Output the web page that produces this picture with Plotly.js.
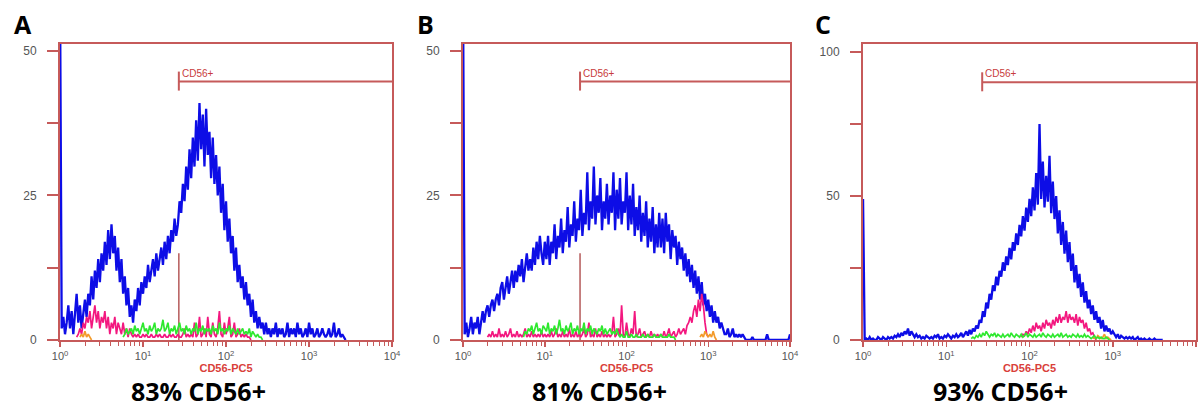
<!DOCTYPE html>
<html><head><meta charset="utf-8">
<script src="https://cdn.plot.ly/plotly-3.0.1.min.js"></script>
<style>html,body{margin:0;padding:0;background:#fff}#chart{width:1203px;height:409px}</style>
</head><body><div id="chart"></div>
<script>
// ---------- data ----------
const CHANNELS_PER_DECADE = 50;      // histogram bins per log decade
const GATE_START = 27;               // CD56+ gate lower bound (fluorescence)
const GATE_END = 10000;
const panelLetters = ['A', 'B', 'C'];
const captions = ['83% CD56+', '81% CD56+', '93% CD56+'];
const gateLabel = 'CD56+';
const xAxisTitle = 'CD56-PC5';
const xTickValues = [1, 10, 100, 1000, 10000];
const xTickLabels = ['10<sup>0</sup>', '10<sup>1</sup>', '10<sup>2</sup>', '10<sup>3</sup>', '10<sup>4</sup>'];
const yTicksAB = [0, 25, 50];
const yMinorTicksAB = [12.5, 37.5];
const yTicksC = [0, 50, 100];
const yMinorTicksC = [25, 75];
const yMax = [51.2, 51.2, 102.8];
const gateLevel = [44.7, 44.7, 89.5];
const gateDrop = [15, 15, 0];

// Panel A
const blueAStart = 0;
const blueA = [60, 2, 4, 1, 3, 6, 2, 5, 1, 4, 8, 3, 6, 2, 5, 7,
  4, 8, 6, 11, 7, 12, 9, 14, 10, 15,
  12, 17, 13, 19, 14, 20, 15, 18, 12, 16,
  10, 14, 8, 11, 6, 9, 4,
  6, 3, 7, 5, 9, 6, 10, 8,
  11, 9, 13, 10, 12, 14, 11, 15, 12, 14,
  16, 13, 17, 14, 18, 15, 19, 17, 21, 18,
  20, 24, 22, 27, 24, 30, 26, 33, 28, 35,
  30, 38, 31, 41, 33, 39, 30, 40, 32, 36,
  28, 35, 27, 32, 25, 30, 22, 27, 19, 24,
  17, 21, 15, 18, 12, 16, 10, 13, 9, 11,
  7, 10, 6, 8, 4, 7, 3, 5, 2, 4,
  2, 3, 1, 3, 1, 2, 0.5, 2, 1, 3, 0.5, 2, 1, 2, 0.5,
  1, 3, 0.5, 2, 1, 2, 0.5, 3, 1, 2, 0.5, 1, 2, 0.5, 3, 1, 2, 0.5, 1, 2, 0.5, 1, 2, 1, 0.5,
  1, 2, 0.5, 1, 3, 0.5, 1, 2, 0.5, 1, 0.5, 0];
const pinkAStart = 10;
const pinkA = [0.5, 1, 2, 1, 3, 2, 4, 3, 5, 2, 4, 6, 3, 5, 2, 4,
  3, 5, 2, 4, 1, 3, 2, 4, 1, 3, 2, 1, 3, 1, 2, 0.5, 2, 1, 0.5,
  1, 0.5, 1, 0.5, 0.5, 1, 0.5, 1, 0.5, 0.5, 1, 0.5, 0.5, 1, 0.5, 1, 0.5, 0.5, 1, 0.5, 0.5, 1, 0.5, 1, 0.5, 0.5, 1, 0.5, 0.5, 1, 2, 0.5, 1, 0.5, 1, 0.5,
  3, 0.5, 1, 4, 0.5, 1, 2, 0.5, 4, 1, 0.5, 3, 1, 0.5, 2, 5, 1, 0.5, 3, 1, 2, 4, 0.5, 1, 3, 0.5, 1, 2, 0.5, 1, 0.5, 1, 0.5, 0.5, 0];
const greenAStart = 38;
const greenA = [0.5, 1, 2, 1, 1.5, 2, 1, 2.5, 1.5, 2, 1, 2, 3, 1.5, 2, 1, 2.5, 1.5, 2, 3, 1, 2, 1.5,
  2, 3.5, 1.5, 2, 3, 1, 2, 1.5, 2.5, 1, 2, 3, 1.5, 2, 1, 2.5, 1.5, 2, 1, 2, 1.5, 3, 1, 2, 1.5, 2.5, 1, 2, 1.5, 2,
  1, 2.5, 1.5, 2, 1, 3, 1.5, 2, 1, 2, 1.5, 2.5, 1, 2, 1.5, 1, 2, 1, 1.5, 2, 1, 1.5, 1, 2, 0.5, 1.5, 1, 0.5, 1, 0.5, 0.5, 0];
const orangeAStart = 12;
const orangeA = [0.5, 1, 0.5, 1.5, 0.5, 1, 0.5, 0];

// Panel B
const blueBStart = 0;
const blueB = [60, 1, 3, 0.5, 2, 4, 1, 3, 2, 4, 1,
  3, 5, 3, 5, 6, 4, 6, 7, 5, 7,
  8, 6, 9, 10, 7, 9, 11, 8, 10, 12,
  9, 12, 10, 13, 11, 14, 10, 13, 15, 12,
  14, 12, 16, 13, 17, 14, 18, 15, 13, 17,
  14, 18, 13, 17, 15, 20, 14, 18, 16, 21,
  15, 19, 17, 23, 16, 20, 18, 24, 17, 21,
  19, 26, 18, 22, 20, 29, 19, 24, 21, 30,
  20, 25, 22, 28, 19, 24, 21, 27, 20, 25,
  22, 29, 19, 26, 21, 28, 20, 24, 22, 29,
  19, 25, 20, 27, 18, 23, 19, 25, 17, 22,
  18, 24, 16, 21, 17, 23, 15, 20, 16, 22,
  16, 21, 15, 22, 17, 20, 14, 19, 16, 18,
  13, 17, 14, 16, 12, 15, 11, 14, 10, 13,
  9, 12, 8, 11, 7, 10, 6, 8, 5, 7,
  4, 6, 3, 5, 3, 4, 2, 3, 2, 1,
  1, 2, 0.5, 1, 2, 0.5, 1, 0.5, 1, 0.5, 1, 0.5,
  0, 0, 0, 0, 0.5, 0, 0, 0, 0, 0, 0, 0, 0, 1, 0, 0, 0, 0, 0, 0, 0, 0, 0, 0, 0, 0, 0, 1];
const pinkBStart = 15;
const pinkB = [0.5, 1, 0.5, 1.5, 0.5, 1, 0.5, 2, 0.5, 1, 0.5, 1.5, 0.5, 1, 2, 0.5, 1, 0.5, 1.5, 0.5, 1, 0.5, 1, 2, 0.5, 1, 0.5, 1.5, 0.5, 1, 0.5, 1, 0.5, 1.5, 0.5, 1,
  0.5, 1, 0.5, 1.5, 0.5, 1, 2, 0.5, 1, 0.5, 1.5, 0.5, 1, 0.5, 2, 0.5, 1, 0.5, 1.5, 0.5, 1, 0.5, 1, 2, 0.5, 1, 3, 0.5, 1, 0.5, 2, 0.5, 1, 0.5, 1.5, 0.5, 1, 0.5, 1, 0.5,
  1, 4, 0.5, 1, 2, 0.5, 6, 1, 0.5, 3, 1, 0.5, 2, 1, 5, 0.5, 1, 2, 0.5, 1, 1.5, 0.5, 1, 0.5, 1.5, 0.5, 1, 0.5, 1, 0.5,
  1, 0.5, 1.5, 0.5, 1, 2, 0.5, 1, 1.5, 0.5, 1, 2, 1, 1.5, 2, 1, 2.5, 3, 4, 3, 5, 6, 4, 7, 5, 8, 6, 3, 1, 0.5];
const greenBStart = 37;
const greenB = [0.5, 1.5, 1, 2, 1.5, 2.5, 1, 2, 3, 1.5,
  2, 1, 2.5, 2, 1.5, 3, 1, 2, 1.5, 2.5,
  1, 2, 3.5, 1.5, 2, 1, 2.5, 1.5, 2, 3,
  1, 2, 1.5, 2.5, 1, 2, 1.5, 3, 1, 2,
  1.5, 2.5, 1, 2, 1.5, 1, 2, 1.5, 2.5, 1,
  2, 1, 1.5, 2, 1, 1.5, 1, 2, 1,
  0.5, 1, 0.5, 0.5, 1.5, 0.5, 0.5, 1, 0.5, 0.5, 1, 0.5, 0.5, 0.5, 1, 0.5, 0.5, 1, 0.5, 0.5, 0.5, 1, 0.5, 0.5, 0.5, 1, 0.5, 0.5, 0.5, 0.5, 1, 0.5, 0.5, 0.5, 0];
const orangeBStart = 145;
const orangeB = [0.5, 1, 0.5, 1.5, 1, 0.5, 1, 0.5, 1.5, 0.5, 0];

// Panel C
const blueCStart = 0;
const blueC = [49, 0, 0.5, 0, 1, 0, 0.5, 0, 0, 1, 0.5, 0, 1, 0.5, 0, 1,
  0.5, 1, 0.5, 1.5, 1, 2, 1, 2.5, 1.5, 3, 2, 4, 1.5, 3, 2, 1, 2, 1, 1.5, 0.5,
  1, 0.5, 1.5, 1, 0.5, 1, 0.5, 1.5, 1, 2, 0.5, 1, 0.5, 1.5, 1, 2, 1, 0.5, 1.5, 1, 2, 1, 1.5, 2.5, 1,
  2, 3, 1.5, 3.5, 2, 4, 3, 5, 4, 7,
  6, 10, 8, 13, 11, 16, 14, 19, 17, 22,
  19, 24, 22, 27, 24, 29, 26, 32, 28, 34,
  31, 37, 33, 40, 36, 43, 38, 46, 41, 49,
  43, 53, 45, 58, 47, 75, 49, 62, 46, 57,
  48, 64, 44, 55, 42, 50, 37, 45, 33, 41,
  30, 38, 27, 34, 24, 30, 20, 26, 18, 23,
  15, 20, 13, 17, 11, 14, 9, 12, 7, 10,
  6, 8, 4, 7, 3, 5, 3, 4, 2, 3,
  2, 1, 2, 0.5, 1.5, 1, 0.5, 1, 0.5, 1, 0.5, 1, 0, 0.5, 1, 0, 0.5, 0, 0.5, 0,
  0, 0.5, 0, 0, 0.5, 0, 0, 0, 0, 0];
const pinkCStart = 95;
const pinkC = [1, 2, 1.5, 3, 2, 4, 2.5, 5, 3, 6, 4,
  5, 3, 6, 4, 7, 5, 6, 4, 7, 5, 8, 6, 9, 6, 8, 7, 10, 6, 9, 7,
  8, 6, 9, 5, 8, 6, 7, 4, 6, 3, 4, 2, 2.5, 1, 0];
const greenCStart = 65;
const greenC = [0.5, 1, 0.5, 1.5, 1, 2, 1, 2.5, 1.5, 3, 2, 1, 2, 1.5, 2.5, 1, 2, 1.5, 1, 2,
  1, 1.5, 2, 1, 2.5, 1.5, 1, 2, 1.5, 1, 2, 1, 1.5, 2.5, 1, 2, 1.5, 1, 2, 1,
  1.5, 2, 1, 2.5, 1.5, 1, 2, 1.5, 1, 2, 1, 1.5, 2, 1, 2.5, 1, 1.5, 2, 1, 1.5,
  1, 2, 1.5, 1, 2, 1, 1.5, 1, 2, 1, 1.5, 1, 0.5, 1, 1.5, 0.5, 1, 0.5, 1, 0.5,
  0.5, 1, 0.5, 0];
const orangeCStart = 138;
const orangeC = [0.5, 1, 0.5, 1.5, 1, 0.5, 1, 2, 0.5, 1, 0.5, 0];

// ---------- styling ----------
const BLUE = '#0d0de6', PINK = '#f3177f', GREEN = '#2fe82f', ORANGE = '#f39a2a';
const FRAME = '#c65a5a';
const xDomains = [[0.0499, 0.3259], [0.3849, 0.6567], [0.7174, 0.9942]];
const yDomain = [0.1687, 0.8924];
const captionX = [0.1654, 0.498, 0.832];
const letterX = [0.0100, 0.3450, 0.6758];

function hist(values, start, p, color, width) {
  const suffix = p === 0 ? '' : String(p + 1);
  return {
    type: 'scatter', mode: 'lines',
    x: values.map((v, i) => Math.pow(10, (start + i) / CHANNELS_PER_DECADE)),
    y: values,
    xaxis: 'x' + suffix, yaxis: 'y' + suffix,
    line: {color: color, width: width},
    hoverinfo: 'skip', showlegend: false
  };
}

const panels = [
  [[blueA, blueAStart, BLUE], [pinkA, pinkAStart, PINK], [orangeA, orangeAStart, ORANGE], [greenA, greenAStart, GREEN]],
  [[blueB, blueBStart, BLUE], [pinkB, pinkBStart, PINK], [orangeB, orangeBStart, ORANGE], [greenB, greenBStart, GREEN]],
  [[blueC, blueCStart, BLUE], [pinkC, pinkCStart, PINK], [orangeC, orangeCStart, ORANGE], [greenC, greenCStart, GREEN]]
];
const traces = [];
panels.forEach((series, p) => series.forEach((s, k) => traces.push(hist(s[0], s[1], p, s[2], k === 0 ? 2.3 : 1.7))));

const layout = {
  width: 1203, height: 409,
  margin: {l: 0, r: 0, t: 0, b: 0},
  paper_bgcolor: '#ffffff', plot_bgcolor: '#ffffff',
  font: {family: 'Liberation Sans, Arial, sans-serif', color: '#555555', size: 11},
  showlegend: false,
  shapes: [], annotations: []
};

for (let p = 0; p < 3; p++) {
  const suffix = p === 0 ? '' : String(p + 1);
  layout['xaxis' + suffix] = {
    type: 'log', range: [0, 4], domain: xDomains[p], anchor: 'y' + suffix,
    tickvals: xTickValues, ticktext: xTickLabels,
    ticks: 'outside', ticklen: 5, tickwidth: 1.5, tickcolor: FRAME,
    minor: {ticks: 'outside', ticklen: 4, tickwidth: 1, tickcolor: FRAME, dtick: 'D1', showgrid: false},
    showline: true, linecolor: FRAME, linewidth: 2, mirror: true,
    showgrid: false, zeroline: false, layer: 'below traces', automargin: false, fixedrange: true,
    tickfont: {size: 11, color: '#555555'},
    title: {text: '<b>' + xAxisTitle + '</b>', font: {size: 11, color: '#d9403a'}, standoff: 0}
  };
  layout['yaxis' + suffix] = {
    range: [0, yMax[p]], domain: yDomain, anchor: 'x' + suffix,
    tickvals: p === 2 ? yTicksC : yTicksAB,
    ticks: 'outside', ticklen: 11, tickwidth: 2, tickcolor: FRAME, ticklabelstandoff: 8,
    minor: {tickvals: p === 2 ? yMinorTicksC : yMinorTicksAB, ticks: 'outside', ticklen: 11, tickwidth: 2, tickcolor: FRAME, showgrid: false},
    showline: true, linecolor: FRAME, linewidth: 2, mirror: true,
    showgrid: false, zeroline: false, layer: 'below traces', automargin: false, fixedrange: true,
    tickfont: {size: 12, color: '#555555'}
  };
  const xr = 'x' + suffix, yr = 'y' + suffix;
  const pxUnit = yMax[p] / 296;
  // shapes on log axes take data values in plotly v3
  layout.shapes.push({type: 'line', xref: xr, yref: yr, x0: GATE_START, x1: GATE_END, y0: gateLevel[p], y1: gateLevel[p], line: {color: FRAME, width: 2}});
  layout.shapes.push({type: 'line', xref: xr, yref: yr, x0: GATE_START, x1: GATE_START, y0: gateLevel[p] - 9 * pxUnit, y1: gateLevel[p] + 10 * pxUnit, line: {color: FRAME, width: 2}});
  if (gateDrop[p] > 0) {
    layout.shapes.push({type: 'line', xref: xr, yref: yr, x0: GATE_START, x1: GATE_START, y0: 0, y1: gateDrop[p], line: {color: '#b55a5a', width: 1.5}, layer: 'below'});
  }
  layout.annotations.push({xref: xr, yref: yr, x: Math.log10(GATE_START), y: gateLevel[p], text: gateLabel, showarrow: false,
    xanchor: 'left', yanchor: 'bottom', xshift: 1, yshift: 1, font: {size: 10, color: '#c83c3c'}});
  layout.annotations.push({xref: 'paper', yref: 'paper', x: letterX[p], y: 0.9425, text: '<b>' + panelLetters[p] + '</b>',
    showarrow: false, xanchor: 'left', yanchor: 'middle', font: {family: 'Open Sans, sans-serif', size: 25, color: '#000000'}});
  layout.annotations.push({xref: 'paper', yref: 'paper', x: captionX[p], y: 0, text: '<b>' + captions[p] + '</b>',
    showarrow: false, xanchor: 'center', yanchor: 'bottom', borderpad: 0, font: {family: 'Open Sans, sans-serif', size: 25, color: '#000000'}});
}

Plotly.newPlot('chart', traces, layout, {displayModeBar: false, staticPlot: true});
</script>
</body></html>
